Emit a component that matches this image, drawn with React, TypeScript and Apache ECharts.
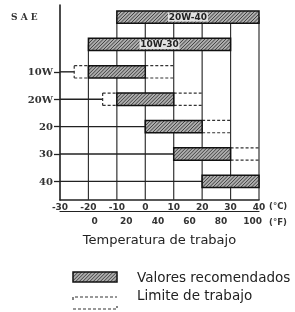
import React, { useEffect, useRef } from "react";
import * as echarts from "echarts";

// SAE grades, top to bottom
const grades = ["20W-40", "10W-30", "10W", "20W", "20", "30", "40"];
// Recommended range (°C)
const recMin = [-10, -20, -20, -10, 0, 10, 20];
const recMax = [40, 30, 0, 10, 20, 30, 40];
// Working limit range (°C)
const limMin = [-10, -20, -25, -15, 0, 10, 20];
const limMax = [40, 30, 10, 20, 30, 40, 40];
// Tick labels
const celsiusTicks = [-30, -20, -10, 0, 10, 20, 30, 40];
const fahrenheitTicks = [0, 20, 40, 60, 80, 100];
const labeledRows = [2, 3, 4, 5, 6];

const Y_MIN = -0.44;
const Y_MAX = 6.68;

function hatch(x0: number, y0: number, x1: number, y1: number, step: number) {
  const out: number[][] = [];
  for (let c = x0 + y0 + step / 2; c < x1 + y1; c += step) {
    const xa = Math.max(x0, c - y1);
    const xb = Math.min(x1, c - y0);
    if (xb > xa) out.push([xa, c - xa, xb, c - xb]);
  }
  return out;
}

const DASH = { stroke: "#333", lineWidth: 1.2, lineDash: [3, 2] };
const BAR_FILL = "#adadad";

export default function App() {
  const ref = useRef<HTMLDivElement>(null);
  useEffect(() => {
    if (!ref.current) return;
    const chart = echarts.init(ref.current, undefined, { renderer: "svg" });

    const rows = grades.map((g, i) => [i, recMin[i], recMax[i], limMin[i], limMax[i]]);
    const gridData = celsiusTicks
      .filter((v) => v > celsiusTicks[0])
      .map((v) => {
        const first = grades.findIndex((_, i) => recMin[i] <= v && v <= recMax[i]);
        return [v, first];
      });

    const legendHatch = hatch(73, 272, 117, 282, 3.5).map((l) => ({
      type: "line",
      shape: { x1: l[0], y1: l[1], x2: l[2], y2: l[3] },
      style: { stroke: "#333", lineWidth: 0.9 },
    }));

    const option: any = {
      animation: false,
      grid: { left: 60, right: 36, top: 5, bottom: 112, containLabel: false },
      xAxis: [
        {
          type: "value",
          min: -30,
          max: 40,
          interval: 10,
          axisLine: { show: true, onZero: false, lineStyle: { color: "#222", width: 1.5 } },
          axisTick: { show: false },
          splitLine: { show: false },
          axisLabel: {
            margin: 2,
            fontSize: 9,
            fontWeight: "bold",
            color: "#333",
            fontFamily: "DejaVu Sans",
          },
        },
        {
          type: "value",
          position: "bottom",
          offset: 11,
          min: -22,
          max: 104,
          axisLine: { show: true, onZero: false, lineStyle: { color: "#222", width: 1.2 } },
          axisTick: { show: false },
          splitLine: { show: false },
          axisLabel: {
            customValues: fahrenheitTicks,
            margin: 5,
            fontSize: 9,
            fontWeight: "bold",
            color: "#333",
            fontFamily: "DejaVu Sans",
          },
          name: "Temperatura de trabajo",
          nameLocation: "middle",
          nameGap: 22,
          nameTextStyle: { fontSize: 13, color: "#222", fontFamily: "DejaVu Sans" },
        },
      ],
      yAxis: {
        type: "value",
        inverse: true,
        min: Y_MIN,
        max: Y_MAX,
        axisLine: { show: true, onZero: false, lineStyle: { color: "#111", width: 1.5 } },
        axisTick: { show: true, customValues: labeledRows, length: 6, lineStyle: { color: "#222", width: 1.3 } },
        splitLine: { show: false },
        axisLabel: {
          customValues: labeledRows,
          formatter: (v: number) => grades[Math.round(v)] ?? "",
          margin: 7,
          fontSize: 10,
          fontWeight: "bold",
          color: "#333",
          fontFamily: "DejaVu Serif",
        },
      },
      series: [
        {
          type: "custom",
          name: "grid",
          z: 1,
          clip: false,
          silent: true,
          data: gridData,
          renderItem: (params: any, api: any) => {
            const v = api.value(0);
            const top = api.coord([v, api.value(1)]);
            const bottom = api.coord([v, Y_MAX]);
            return {
              type: "line",
              shape: { x1: top[0], y1: top[1], x2: bottom[0], y2: bottom[1] },
              style: { stroke: "#333", lineWidth: 1.2 },
            };
          },
        },
        {
          type: "custom",
          name: "Valores recomendados",
          z: 2,
          clip: false,
          data: rows,
          renderItem: (params: any, api: any) => {
            const i = api.value(0);
            const rMin = api.value(1);
            const rMax = api.value(2);
            const lMin = api.value(3);
            const lMax = api.value(4);
            const h = api.size([0, 1])[1] * 0.45;
            const a = api.coord([rMin, i]);
            const b = api.coord([rMax, i]);
            const y0 = a[1] - h / 2;
            const y1 = a[1] + h / 2;
            const children: any[] = [];
            const label = grades[i];
            const multi = label.includes("-");
            if (!multi) {
              const ax = api.coord([-30, i]);
              const lp = api.coord([lMin, i]);
              children.push({
                type: "line",
                shape: { x1: ax[0], y1: ax[1], x2: lp[0], y2: lp[1] },
                style: { stroke: "#222", lineWidth: 1.4 },
              });
            }
            if (lMin < rMin) {
              const lx = api.coord([lMin, i])[0];
              children.push(
                { type: "line", shape: { x1: lx, y1: y0, x2: lx, y2: y1 }, style: DASH },
                { type: "line", shape: { x1: lx, y1: y0, x2: a[0], y2: y0 }, style: DASH },
                { type: "line", shape: { x1: lx, y1: y1, x2: a[0], y2: y1 }, style: DASH }
              );
            }
            if (lMax > rMax) {
              const rx = api.coord([lMax, i])[0];
              children.push(
                { type: "line", shape: { x1: b[0], y1: y0, x2: rx, y2: y0 }, style: DASH },
                { type: "line", shape: { x1: b[0], y1: y1, x2: rx, y2: y1 }, style: DASH }
              );
            }
            children.push({
              type: "rect",
              shape: { x: a[0], y: y0, width: b[0] - a[0], height: h },
              style: { fill: BAR_FILL },
            });
            hatch(a[0], y0, b[0], y1, 3.5).forEach((l) =>
              children.push({
                type: "line",
                shape: { x1: l[0], y1: l[1], x2: l[2], y2: l[3] },
                style: { stroke: "#333", lineWidth: 0.9 },
              })
            );
            if (multi) {
              const cx = (a[0] + b[0]) / 2;
              children.push(
                {
                  type: "rect",
                  shape: { x: cx - 20, y: a[1] - 4.5, width: 40, height: 9 },
                  style: { fill: "#e2e2e2" },
                },
                {
                  type: "text",
                  style: {
                    text: label,
                    x: cx,
                    y: a[1],
                    align: "center",
                    verticalAlign: "middle",
                    font: "bold 9px DejaVu Sans",
                    fill: "#222",
                  },
                }
              );
            }
            children.push({
              type: "rect",
              shape: { x: a[0], y: y0, width: b[0] - a[0], height: h },
              style: { fill: "none", stroke: "#111", lineWidth: 1.5 },
            });
            return { type: "group", children };
          },
        },
      ],
      graphic: [
        {
          type: "text",
          left: 11,
          top: 12,
          style: { text: "S A E", font: "bold 9px DejaVu Serif", fill: "#333" },
        },
        {
          type: "text",
          left: 269,
          top: 201,
          style: { text: "(°C)", font: "bold 8.5px DejaVu Sans", fill: "#333" },
        },
        {
          type: "text",
          left: 269,
          top: 217,
          style: { text: "(°F)", font: "bold 8.5px DejaVu Sans", fill: "#333" },
        },
        {
          type: "group",
          children: [
            { type: "rect", shape: { x: 73, y: 272, width: 44, height: 10 }, style: { fill: BAR_FILL } },
            ...legendHatch,
            {
              type: "rect",
              shape: { x: 73, y: 272, width: 44, height: 10 },
              style: { fill: "none", stroke: "#111", lineWidth: 1.5 },
            },
            {
              type: "polyline",
              shape: { points: [[73, 300], [73, 297], [117, 297]] },
              style: { stroke: "#333", lineWidth: 1.2, lineDash: [3, 2], fill: "none" },
            },
            {
              type: "polyline",
              shape: { points: [[73, 309], [117, 309], [117, 306]] },
              style: { stroke: "#333", lineWidth: 1.2, lineDash: [3, 2], fill: "none" },
            },
          ],
        },
        {
          type: "text",
          left: 137,
          top: 270,
          style: { text: "Valores recomendados", font: "13.5px DejaVu Sans", fill: "#222" },
        },
        {
          type: "text",
          left: 137,
          top: 288,
          style: { text: "Limite de trabajo", font: "13.5px DejaVu Sans", fill: "#222" },
        },
      ],
    };
    chart.setOption(option);
    return () => chart.dispose();
  }, []);
  return (
    <div
      ref={ref}
      style={{ position: "fixed", left: 0, top: 0, width: 295, height: 312 }}
    />
  );
}
